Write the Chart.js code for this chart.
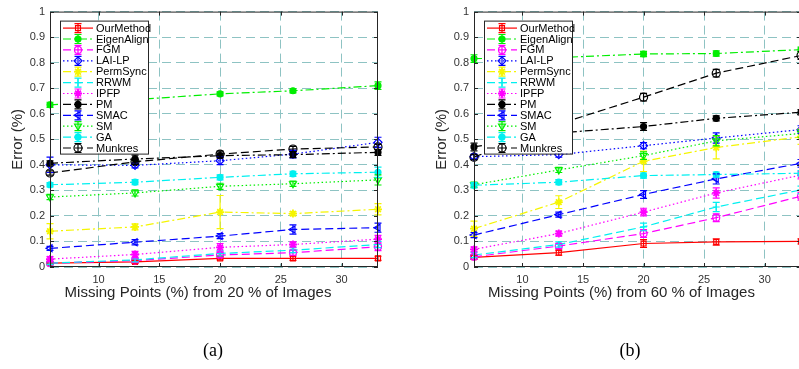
<!DOCTYPE html>
<html>
<head>
<meta charset="utf-8">
<script src="https://cdn.jsdelivr.net/npm/chart.js@4"></script>
<style>
  html, body { margin: 0; padding: 0; background: #fff; overflow: hidden; }
  body { width: 799px; height: 369px; position: relative; }
  .panel { position: absolute; top: 0; height: 369px; }
  #panelA { left: 0; width: 400px; }
  #panelB { left: 400px; width: 420px; }
  .caption { position: absolute; top: 340px; font-family: "Liberation Serif", serif; font-size: 18px; color: #000; transform: translateX(-50%); }
</style>
</head>
<body>
<div class="panel" id="panelA"><canvas id="chartA" width="400" height="369"></canvas></div>
<div class="panel" id="panelB"><canvas id="chartB" width="420" height="369"></canvas></div>
<div class="caption" style="left:213px">(a)</div>
<div class="caption" style="left:630px">(b)</div>
<script>
// x positions and ticks
const missingPts = [6, 13, 20, 26, 33];
const xTickVals = [10, 15, 20, 25, 30];
const yTickVals = [0, 0.1, 0.2, 0.3, 0.4, 0.5, 0.6, 0.7, 0.8, 0.9, 1];
const methodNames = ['OurMethod', 'EigenAlign', 'FGM', 'LAI-LP', 'PermSync', 'RRWM',
                     'IPFP', 'PM', 'SMAC', 'SM', 'GA', 'Munkres'];
const xTitleA = 'Missing Points (%) from 20 % of Images';
const xTitleB = 'Missing Points (%) from 60 % of Images';
const yTitle = 'Error (%)';

// (a) mean error
const ourMethodA  = [0.015, 0.020, 0.034, 0.034, 0.034];
const eigenAlignA = [0.635, 0.655, 0.678, 0.690, 0.710];
const fgmA        = [0.015, 0.025, 0.047, 0.056, 0.079];
const laiLpA      = [0.400, 0.398, 0.416, 0.442, 0.488];
const permSyncA   = [0.140, 0.157, 0.215, 0.209, 0.226];
const rrwmA       = [0.015, 0.028, 0.053, 0.066, 0.088];
const ipfpA       = [0.031, 0.049, 0.077, 0.088, 0.109];
const pmA         = [0.406, 0.423, 0.436, 0.440, 0.449];
const smacA       = [0.073, 0.097, 0.121, 0.147, 0.154];
const smA         = [0.274, 0.290, 0.316, 0.326, 0.341];
const gaA         = [0.322, 0.332, 0.351, 0.365, 0.371];
const munkresA    = [0.368, 0.412, 0.442, 0.462, 0.470];

// (a) error bar half lengths
const ourMethodErrA  = [0.004, 0.006, 0.006, 0.008, 0.008];
const eigenAlignErrA = [0.010, 0.010, 0.008, 0.008, 0.015];
const fgmErrA        = [0.006, 0.008, 0.010, 0.010, 0.015];
const laiLpErrA      = [0.030, 0.010, 0.015, 0.015, 0.020];
const permSyncErrA   = [0.030, 0.012, 0.065, 0.008, 0.022];
const rrwmErrA       = [0.006, 0.008, 0.010, 0.010, 0.012];
const ipfpErrA       = [0.010, 0.012, 0.015, 0.010, 0.015];
const pmErrA         = [0.010, 0.015, 0.010, 0.012, 0.012];
const smacErrA       = [0.008, 0.010, 0.010, 0.018, 0.018];
const smErrA         = [0.010, 0.012, 0.012, 0.010, 0.020];
const gaErrA         = [0.008, 0.010, 0.010, 0.010, 0.020];
const munkresErrA    = [0.008, 0.010, 0.012, 0.010, 0.010];

// (b) mean error
const ourMethodB  = [0.038, 0.056, 0.092, 0.098, 0.100];
const eigenAlignB = [0.816, 0.820, 0.834, 0.836, 0.851];
const fgmB        = [0.040, 0.082, 0.131, 0.193, 0.277];
const laiLpB      = [0.432, 0.440, 0.475, 0.505, 0.538];
const permSyncB   = [0.150, 0.254, 0.414, 0.468, 0.510];
const rrwmB       = [0.047, 0.088, 0.157, 0.235, 0.302];
const ipfpB       = [0.069, 0.131, 0.215, 0.290, 0.360];
const pmB         = [0.470, 0.525, 0.550, 0.582, 0.606];
const smacB       = [0.125, 0.205, 0.284, 0.345, 0.406];
const smB         = [0.322, 0.380, 0.436, 0.494, 0.523];
const gaB         = [0.320, 0.332, 0.358, 0.362, 0.367];
const munkresB    = [0.430, 0.560, 0.665, 0.759, 0.828];

// (b) error bar half lengths
const ourMethodErrB  = [0.008, 0.010, 0.015, 0.012, 0.010];
const eigenAlignErrB = [0.015, 0.010, 0.010, 0.010, 0.010];
const fgmErrB        = [0.010, 0.010, 0.015, 0.015, 0.015];
const laiLpErrB      = [0.010, 0.010, 0.012, 0.020, 0.015];
const permSyncErrB   = [0.030, 0.025, 0.040, 0.045, 0.030];
const rrwmErrB       = [0.010, 0.010, 0.015, 0.018, 0.015];
const ipfpErrB       = [0.010, 0.010, 0.015, 0.020, 0.015];
const pmErrB         = [0.015, 0.010, 0.015, 0.010, 0.010];
const smacErrB       = [0.010, 0.010, 0.015, 0.020, 0.015];
const smErrB         = [0.010, 0.010, 0.015, 0.020, 0.015];
const gaErrB         = [0.010, 0.010, 0.010, 0.010, 0.010];
const munkresErrB    = [0.010, 0.010, 0.015, 0.015, 0.015];

const seriesA = [ourMethodA, eigenAlignA, fgmA, laiLpA, permSyncA, rrwmA, ipfpA, pmA, smacA, smA, gaA, munkresA];
const errsA = [ourMethodErrA, eigenAlignErrA, fgmErrA, laiLpErrA, permSyncErrA, rrwmErrA, ipfpErrA, pmErrA, smacErrA, smErrA, gaErrA, munkresErrA];
const seriesB = [ourMethodB, eigenAlignB, fgmB, laiLpB, permSyncB, rrwmB, ipfpB, pmB, smacB, smB, gaB, munkresB];
const errsB = [ourMethodErrB, eigenAlignErrB, fgmErrB, laiLpErrB, permSyncErrB, rrwmErrB, ipfpErrB, pmErrB, smacErrB, smErrB, gaErrB, munkresErrB];

// line styles (matlab-ish)
const DASH = [8, 4];
const DASHDOT = [8, 3, 2, 3];
const DOT = [1.5, 2.5];
const lineStyles = [
  { color: '#ff0000', dash: [],      marker: 'rect',     filled: false, r: 3.5, rot: 0 },
  { color: '#00ee00', dash: DASHDOT, marker: 'circle',   filled: true,  r: 3,   rot: 0 },
  { color: '#ff00ff', dash: DASH,    marker: 'circle',   filled: false, r: 3.5, rot: 0 },
  { color: '#0000ff', dash: DOT,     marker: 'rectRot',  filled: false, r: 4,   rot: 0 },
  { color: '#f5f500', dash: DASHDOT, marker: 'star',     filled: true,  r: 4,   rot: 0 },
  { color: '#00f0f0', dash: DASH,    marker: 'cross',    filled: false, r: 3.5, rot: 0 },
  { color: '#ff00ff', dash: DOT,     marker: 'star',     filled: true,  r: 4,   rot: 0 },
  { color: '#000000', dash: DASHDOT, marker: 'circle',   filled: true,  r: 3,   rot: 0 },
  { color: '#0000ff', dash: DASH,    marker: 'triangle', filled: false, r: 4,   rot: -90 },
  { color: '#00ee00', dash: DOT,     marker: 'triangle', filled: false, r: 4,   rot: 180 },
  { color: '#00f0f0', dash: DASHDOT, marker: 'circle',   filled: true,  r: 3,   rot: 0 },
  { color: '#000000', dash: DASH,    marker: 'circle',   filled: false, r: 4,   rot: 0 }
];

const AXIS_COLOR = '#262626';
const GRID_COLOR = '#8ec3c3';
const FONT = '"Liberation Sans", Arial, sans-serif';

function markerOpts(s) {
  return { pointStyle: s.marker, rotation: s.rot, radius: s.r, borderWidth: s.marker === 'star' ? 1.8 : 1.2 };
}

function drawMarker(ctx, s, x, y) {
  ctx.save();
  ctx.setLineDash([]);
  ctx.strokeStyle = s.color;
  ctx.fillStyle = s.filled ? s.color : 'rgba(0,0,0,0)';
  const o = markerOpts(s);
  ctx.lineWidth = o.borderWidth;
  Chart.helpers.drawPoint(ctx, o, x, y);
  ctx.restore();
}

function errorBar(ctx, color, x, yTop, yBot) {
  ctx.save();
  ctx.setLineDash([]);
  ctx.strokeStyle = color;
  ctx.lineWidth = 1.2;
  ctx.beginPath();
  ctx.moveTo(x, yTop); ctx.lineTo(x, yBot);
  ctx.moveTo(x - 3.5, yTop); ctx.lineTo(x + 3.5, yTop);
  ctx.moveTo(x - 3.5, yBot); ctx.lineTo(x + 3.5, yBot);
  ctx.stroke();
  ctx.restore();
}

const matlabAxes = {
  id: 'matlabAxes',
  afterDatasetsDraw(chart) {
    const ctx = chart.ctx;
    const xs = chart.scales.x, ys = chart.scales.y;
    chart.data.datasets.forEach((ds, i) => {
      ds.data.forEach((p, j) => {
        const e = ds.errs[j];
        errorBar(ctx, ds.borderColor, xs.getPixelForValue(p.x),
                 ys.getPixelForValue(p.y + e), ys.getPixelForValue(p.y - e));
      });
    });
  },
  afterDraw(chart) {
    const ctx = chart.ctx;
    const a = chart.chartArea;
    const xs = chart.scales.x, ys = chart.scales.y;
    ctx.save();
    // box
    ctx.strokeStyle = AXIS_COLOR;
    ctx.lineWidth = 1;
    ctx.strokeRect(a.left + 0.5, a.top + 0.5, a.right - a.left - 1, a.bottom - a.top - 1);
    // inner ticks
    ctx.beginPath();
    xTickVals.forEach(v => {
      const x = Math.round(xs.getPixelForValue(v)) + 0.5;
      ctx.moveTo(x, a.bottom); ctx.lineTo(x, a.bottom - 4);
      ctx.moveTo(x, a.top); ctx.lineTo(x, a.top + 4);
    });
    yTickVals.forEach(v => {
      const y = Math.round(ys.getPixelForValue(v)) + 0.5;
      ctx.moveTo(a.left, y); ctx.lineTo(a.left + 4, y);
      ctx.moveTo(a.right, y); ctx.lineTo(a.right - 4, y);
    });
    ctx.stroke();
    // x title
    ctx.fillStyle = AXIS_COLOR;
    ctx.font = '15px ' + FONT;
    ctx.textAlign = 'center';
    ctx.textBaseline = 'middle';
    ctx.fillText(chart.options.xTitleText, (a.left + a.right) / 2 - 16, 293);
    // legend
    const lx = a.left + 10, ly = a.top + 9, lw = 88, lh = 133;
    ctx.fillStyle = '#fff';
    ctx.fillRect(lx, ly, lw, lh);
    ctx.strokeStyle = AXIS_COLOR;
    ctx.strokeRect(lx + 0.5, ly + 0.5, lw, lh);
    ctx.font = '11px ' + FONT;
    ctx.textAlign = 'left';
    methodNames.forEach((name, i) => {
      const s = lineStyles[i];
      const y = ly + 7.5 + i * 10.9;
      ctx.save();
      ctx.strokeStyle = s.color;
      ctx.lineWidth = 1.2;
      ctx.setLineDash(s.dash);
      ctx.beginPath();
      ctx.moveTo(lx + 3, y); ctx.lineTo(lx + 33, y);
      ctx.stroke();
      ctx.restore();
      errorBar(ctx, s.color, lx + 18, y - 4.5, y + 4.5);
      drawMarker(ctx, s, lx + 18, y);
      ctx.fillStyle = '#000';
      ctx.fillText(name, lx + 36, y + 0.5);
    });
    ctx.restore();
  }
};

function makeChart(id, series, errs, xTitle, padding) {
  const datasets = series.map((vals, i) => {
    const s = lineStyles[i];
    const o = markerOpts(s);
    return {
      label: methodNames[i],
      data: missingPts.map((x, j) => ({ x: x, y: vals[j] })),
      errs: errs[i],
      borderColor: s.color,
      backgroundColor: s.color,
      borderWidth: 1.2,
      borderDash: s.dash,
      pointStyle: s.marker,
      pointRotation: s.rot,
      pointRadius: s.r,
      pointBorderWidth: o.borderWidth,
      pointBorderColor: s.color,
      pointBackgroundColor: s.filled ? s.color : 'rgba(0,0,0,0)',
      tension: 0,
      fill: false,
      clip: 10,
      order: -i
    };
  });
  return new Chart(document.getElementById(id), {
    type: 'line',
    data: { datasets: datasets },
    plugins: [matlabAxes],
    options: {
      xTitleText: xTitle,
      responsive: false,
      animation: false,
      layout: { padding: padding },
      plugins: { legend: { display: false }, tooltip: { enabled: false } },
      scales: {
        x: {
          type: 'linear', min: 6, max: 33,
          afterBuildTicks: scale => { scale.ticks = xTickVals.map(v => ({ value: v })); },
          afterFit: scale => { scale.height = 40; },
          grid: { color: GRID_COLOR, lineWidth: 1, drawTicks: false },
          border: { display: false, dash: [9, 5] },
          ticks: { padding: 6, color: '#333', font: { family: FONT, size: 11 }, maxRotation: 0 }
        },
        y: {
          type: 'linear', min: 0, max: 1,
          afterBuildTicks: scale => { scale.ticks = yTickVals.map(v => ({ value: v })); },
          afterFit: scale => { scale.width = 50; },
          grid: { color: GRID_COLOR, lineWidth: 1, drawTicks: false },
          border: { display: false, dash: [9, 5] },
          ticks: { padding: 5, color: '#333', font: { family: FONT, size: 11 },
                   callback: v => String(Math.round(v * 10) / 10) },
          title: { display: true, text: yTitle, color: AXIS_COLOR,
                   font: { family: FONT, size: 15 }, padding: { top: 9, bottom: 0 } }
        }
      }
    }
  });
}

makeChart('chartA', seriesA, errsA, xTitleA, { left: 0, right: 22, top: 10, bottom: 62 });
makeChart('chartB', seriesB, errsB, xTitleB, { left: 24, right: 19, top: 10, bottom: 62 });
</script>
</body>
</html>
